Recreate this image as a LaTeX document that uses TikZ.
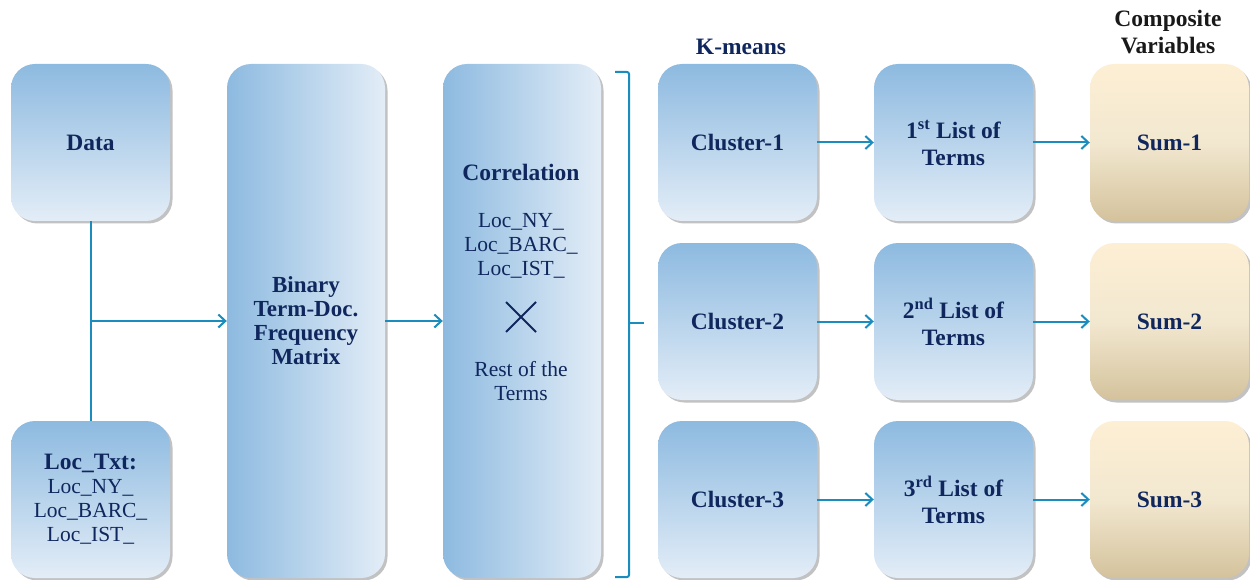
\documentclass[tikz,border=0pt]{standalone}
\usepackage{fontspec}
\setmainfont{Liberation Serif}
\usetikzlibrary{arrows.meta,shadows,calc}
\definecolor{navy}{HTML}{10275E}
\definecolor{conn}{HTML}{1A8CBE}
\definecolor{btop}{HTML}{8DBAE0}
\definecolor{bbot}{HTML}{E3EDF7}
\definecolor{stop}{HTML}{FDEFD4}
\definecolor{smid}{HTML}{F2E8D0}
\definecolor{sbot}{HTML}{D4C29C}
\tikzset{
  shad/.style={drop shadow={shadow xshift=2.5pt, shadow yshift=-2.5pt, opacity=0.4, fill=black!60}},
  bx/.style={shad, rounded corners=24pt, minimum width=159pt, minimum height=157pt, align=center, text=navy, inner sep=2pt,
     font=\fontsize{23.5}{27}\selectfont\bfseries},
  vbox/.style={bx, top color=btop, bottom color=bbot, draw=none},
  sbox/.style={bx, top color=stop, bottom color=sbot, middle color=smid, draw=none},
  tall/.style={shad, rounded corners=24pt, minimum width=158pt, minimum height=514pt, align=center, text=navy,
     left color=btop, right color=bbot, draw=none, font=\fontsize{23}{24}\selectfont\bfseries},
  reg/.style={text=navy, font=\fontsize{21.5}{24}\selectfont, align=center},
  conline/.style={draw=conn, line width=2pt},
  arr/.style={conline, -{Straight Barb[length=7pt,width=13pt,line width=2pt]}},
  lbl/.style={font=\fontsize{23.5}{27}\selectfont\bfseries, align=center}
}
\begin{document}
\begin{tikzpicture}[x=1pt,y=-1pt]
\useasboundingbox (0,0) rectangle (1250,580);
% left column
\node[vbox] (data) at (90.5,142.5) {Data};
\node[vbox, font=\fontsize{21.5}{24}\selectfont] (loc) at (90.5,499.5) {\textbf{\fontsize{23.5}{24}\selectfont Loc\_Txt:}\\Loc\_NY\_\\Loc\_BARC\_\\Loc\_IST\_};
% tall boxes
\node[tall] (bin) at (306,321) {Binary\\Term-Doc.\\Frequency\\Matrix};
\node[tall] (corr) at (522,321) {};
\node[text=navy, font=\fontsize{23.5}{24}\selectfont\bfseries] (ctitle) at (521,172) {Correlation};
\node[reg] (clist) at (521,246) {Loc\_NY\_\\Loc\_BARC\_\\Loc\_IST\_};
\coordinate (xc) at (521,317);
\draw[navy, line width=1.8pt] ($(xc)+(-15,-15)$) -- ($(xc)+(15,15)$) ($(xc)+(-15,15)$) -- ($(xc)+(15,-15)$);
\node[reg] (rest) at (521,381) {Rest of the\\Terms};
% right grid
\node[vbox] (c1) at (737.5,142.5) {Cluster-1};
\node[vbox] (c2) at (737.5,321.5) {Cluster-2};
\node[vbox] (c3) at (737.5,499.5) {Cluster-3};
\node[vbox] (l1) at (953.5,142.5) {1\textsuperscript{st} List of\\Terms};
\node[vbox] (l2) at (953.5,321.5) {2\textsuperscript{nd} List of\\Terms};
\node[vbox] (l3) at (953.5,499.5) {3\textsuperscript{rd} List of\\Terms};
\node[sbox] (s1) at (1169.5,142.5) {Sum-1};
\node[sbox] (s2) at (1169.5,321.5) {Sum-2};
\node[sbox] (s3) at (1169.5,499.5) {Sum-3};
% labels
\node[lbl, text=navy] (km) at (741,47) {K-means};
\node[lbl, text=black!90] (cv) at (1168,32) {Composite\\Variables};
% connectors
\coordinate (j) at (data.south |- bin.west);
\draw[conline] (data.south) -- (loc.north);
\draw[arr] (j) -- (bin.west);
\draw[arr] (bin.east) -- (corr.west);
\foreach \i in {1,2,3} {
  \draw[arr] (c\i.east) -- (l\i.west);
  \draw[arr] (l\i.east) -- (s\i.west);
}
% bracket
\coordinate (bt0) at (615,72);
\coordinate (bt1) at (629,72);
\coordinate (bb1) at (629,577);
\coordinate (bb0) at (615,577);
\coordinate (bm) at (629,323);
\coordinate (bm1) at (644,323);
\draw[conline, rounded corners=2pt] (bt0) -- (bt1) -- (bb1) -- (bb0);
\draw[conline] (bm) -- (bm1);
\end{tikzpicture}
\end{document}
